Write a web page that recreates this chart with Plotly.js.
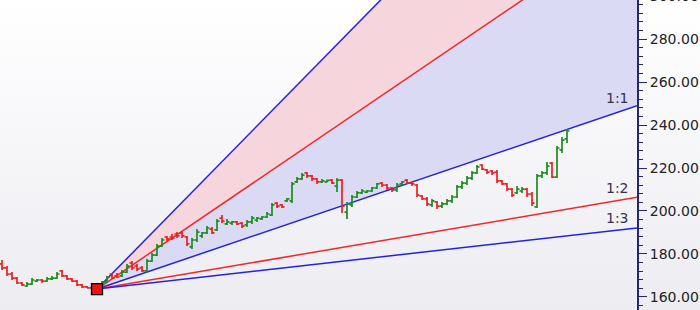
<!DOCTYPE html>
<html>
<head>
<meta charset="utf-8">
<script src="https://cdn.plot.ly/plotly-3.0.1.min.js"></script>
<style>
  html, body { margin: 0; padding: 0; width: 700px; height: 310px; overflow: hidden;
    background: linear-gradient(to bottom, #ffffff 0%, #f6f6f9 50%, #ececf1 100%); }
  #chart { position: absolute; left: 0; top: -15px; width: 700px; height: 340px; }
</style>
</head>
<body>
<div id="chart"></div>
<script>
// Daily OHLC prices
const opens = [175.4,173.5,170.7,168.8,166.5,165.1,166.0,167.4,167.9,167.4,
  168.4,168.8,172.1,169.8,168.4,167.4,165.6,164.7,164.2,164.7,
  165.6,167.0,170.7,169.8,169.8,171.6,175.8,174.4,173.5,172.1,
  176.7,179.5,183.7,187.9,187.9,189.3,189.8,187.9,183.3,186.5,
  188.4,189.8,191.6,191.2,196.7,194.0,194.4,194.9,194.4,193.5,
  194.9,195.8,196.3,197.2,198.1,203.7,202.8,204.7,204.7,213.5,
  214.9,217.7,216.3,214.9,213.5,213.5,214.4,211.6,214.4,199.5,
  202.8,206.5,208.4,208.8,209.3,210.7,213.0,212.1,210.7,209.8,
  212.6,214.4,213.0,212.1,207.0,205.6,202.8,204.2,202.3,203.3,
  204.7,206.5,211.2,213.0,215.3,217.7,221.4,219.1,218.6,218.1,
  214.0,212.6,210.2,208.4,209.3,210.2,207.9,201.9,216.3,217.7,
  222.3,215.8,228.4,233.5];
const highs = [177.2,174.4,171.6,169.3,167.0,167.0,168.8,168.4,168.4,169.3,
  169.8,171.6,172.6,170.2,168.8,167.9,166.0,165.1,165.1,165.1,
  167.4,169.8,171.2,171.2,172.6,175.4,176.7,175.4,174.4,177.7,
  180.5,184.7,187.4,188.4,189.3,190.2,190.7,188.4,187.4,191.6,
  190.2,193.0,192.6,196.3,198.1,196.3,195.3,195.3,194.9,195.8,
  197.7,197.2,197.7,199.5,203.7,204.2,203.3,206.0,213.5,215.8,
  217.7,218.1,216.7,215.3,214.9,214.6,214.9,215.3,214.9,204.2,
  207.4,209.3,210.2,209.8,211.2,213.0,213.5,212.6,211.2,213.0,
  214.0,214.9,213.5,212.6,207.4,206.5,205.6,204.7,204.2,205.6,
  207.4,212.1,214.0,216.3,218.6,221.4,221.9,219.5,219.1,219.1,
  214.4,213.0,210.7,211.6,211.2,210.7,208.8,217.2,218.6,222.8,
  222.8,230.2,234.4,238.1];
const lows = [172.6,169.8,167.9,166.0,165.1,164.7,165.6,167.0,166.5,167.0,
  167.9,168.4,169.3,167.9,167.0,165.1,164.2,164.2,164.2,163.7,
  164.2,166.5,168.4,168.8,169.3,171.2,172.6,172.1,171.6,171.2,
  176.3,179.1,183.3,186.1,186.5,187.4,187.4,183.7,182.3,185.6,
  187.4,189.3,189.3,190.7,194.4,193.5,193.5,193.5,192.1,192.6,
  194.0,194.9,195.8,196.7,197.7,201.4,201.4,204.2,203.7,213.0,
  214.4,215.3,214.0,212.6,213.0,213.3,212.6,208.8,199.1,196.3,
  201.9,206.0,207.9,208.4,208.8,210.2,211.2,209.8,208.8,208.8,
  212.1,212.6,211.6,206.5,205.1,202.3,201.9,200.9,201.4,202.8,
  203.7,206.0,210.2,212.1,214.4,217.2,219.1,217.2,216.7,213.0,
  212.1,209.3,206.5,207.9,208.4,206.5,202.3,201.4,215.3,216.7,
  215.3,215.3,227.0,231.6];
const closes = [173.5,170.7,168.8,166.5,165.6,166.0,167.9,167.9,167.4,168.4,
  168.8,170.7,169.8,168.4,167.4,165.6,164.7,164.2,164.7,164.2,
  167.0,169.3,168.8,169.3,171.6,174.4,173.5,173.0,172.1,176.7,
  179.5,183.7,186.5,187.0,187.4,188.4,188.4,184.7,186.5,190.2,
  189.8,192.1,189.8,195.3,195.3,194.9,194.9,194.0,193.0,194.9,
  196.7,196.7,197.2,198.6,202.8,202.3,201.9,205.6,212.6,214.9,
  216.7,216.3,214.9,213.5,214.0,214.2,213.0,214.4,202.3,203.3,
  206.5,208.4,209.3,209.3,210.7,212.6,212.1,210.7,209.8,212.1,
  213.5,213.0,212.6,207.4,205.6,203.3,204.7,202.3,203.3,204.7,
  206.5,211.2,213.0,215.3,217.7,220.5,219.5,218.1,217.7,214.0,
  212.6,210.2,207.4,210.2,210.2,207.9,203.7,216.3,217.7,220.9,
  215.8,229.3,233.0,237.2];

// Gann fan settings
const pivotBar = 19;                 // bar holding the pivot low
const pivotPrice = lows[pivotBar];   // fan origin price
const unitSlope = 0.79;              // price per bar for the 1:1 line
const fanNames  = ['1:1', '2:1', '3:1', '1:2', '1:3'];
const fanRatios = [1, 2, 3, 1/2, 1/3];
const fanColors = ['#2222e6', '#f02828', '#2222e6', '#f02828', '#2222e6'];
const fanFills  = ['none', 'tonexty', 'tonexty', 'none', 'none'];
const fanFillColors = ['rgba(0,0,0,0)', 'rgb(218,218,245)', 'rgb(246,214,220)', 'rgba(0,0,0,0)', 'rgba(0,0,0,0)'];
const fanLabelShift = {'1:1': 14, '1:2': 13, '1:3': 12};

const xRange = [-0.4, 127];
const yRange = [146.97, 305.12];
const bars = closes.map((_, i) => i);
const fanEnd = xRange[1];

const traces = [];
fanNames.forEach((name, k) => {
  traces.push({
    type: 'scatter', mode: 'lines', name: name,
    x: [pivotBar, fanEnd],
    y: [pivotPrice, pivotPrice + fanRatios[k] * unitSlope * (fanEnd - pivotBar)],
    line: {color: fanColors[k], width: 1.5},
    fill: fanFills[k], fillcolor: fanFillColors[k],
    xaxis: 'x', yaxis: 'y', hoverinfo: 'skip', showlegend: false
  });
});

traces.push({
  type: 'ohlc', x: bars, open: opens, high: highs, low: lows, close: closes,
  increasing: {line: {color: '#1c8c1c', width: 1.7}},
  decreasing: {line: {color: '#f01e1e', width: 1.7}},
  tickwidth: 0.5, xaxis: 'x2', yaxis: 'y2', showlegend: false, hoverinfo: 'skip'
});

traces.push({
  type: 'scatter', mode: 'markers', x: [pivotBar], y: [pivotPrice],
  marker: {symbol: 'square', size: 11, color: '#f01010', line: {color: '#000000', width: 1.3}},
  xaxis: 'x2', yaxis: 'y2', showlegend: false, hoverinfo: 'skip'
});

const annotations = fanNames.filter(n => fanLabelShift[n] !== undefined).map(n => {
  const k = fanNames.indexOf(n);
  const xl = fanEnd - 4;
  return {
    xref: 'x', yref: 'y', x: xl,
    y: pivotPrice + fanRatios[k] * unitSlope * (xl - pivotBar),
    text: n, showarrow: false, yshift: fanLabelShift[n], xanchor: 'center', yanchor: 'middle',
    font: {family: 'DejaVu Sans', size: 14, color: '#33334a'}
  };
});

const axisColor = '#25257a';
const layout = {
  width: 700, height: 340,
  margin: {l: 0, r: 63, t: 0, b: 0},
  paper_bgcolor: 'rgba(0,0,0,0)', plot_bgcolor: 'rgba(0,0,0,0)',
  showlegend: false,
  xaxis: {range: xRange, visible: false, fixedrange: true},
  xaxis2: {range: xRange, visible: false, overlaying: 'x', fixedrange: true, rangeslider: {visible: false}},
  yaxis: {
    range: yRange, side: 'right', showgrid: false, zeroline: false,
    showline: true, linecolor: axisColor, linewidth: 2,
    ticks: 'outside', ticklen: 8, tickwidth: 1, tickcolor: axisColor,
    dtick: 20, tick0: 0, tickformat: '.2f',
    tickfont: {family: 'DejaVu Sans', size: 14, color: '#222222'},
    minor: {dtick: 4, ticks: 'outside', ticklen: 4, tickcolor: axisColor, showgrid: false},
    fixedrange: true
  },
  yaxis2: {range: yRange, overlaying: 'y', visible: false, fixedrange: true},
  annotations: annotations
};

Plotly.newPlot('chart', traces, layout, {staticPlot: true, displayModeBar: false});
</script>
</body>
</html>
